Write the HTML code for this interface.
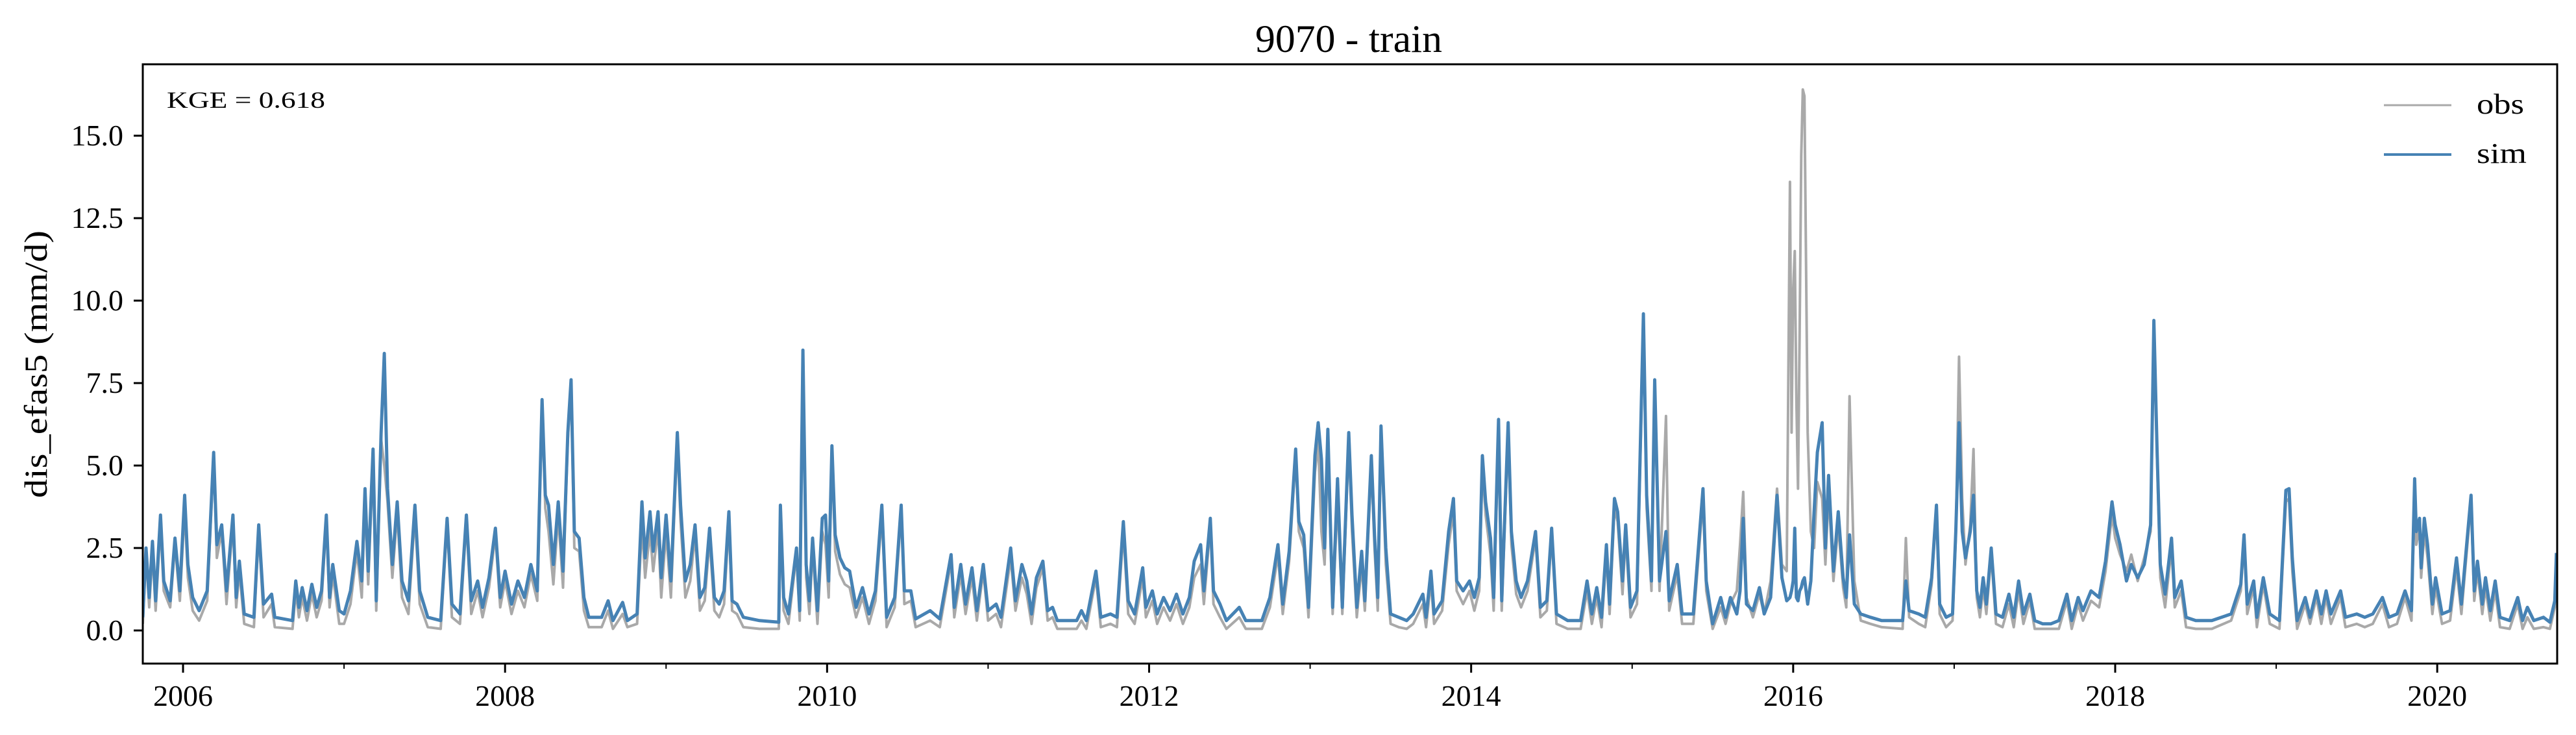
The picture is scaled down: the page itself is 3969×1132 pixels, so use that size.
<!DOCTYPE html>
<html><head><meta charset="utf-8"><title>9070 - train</title>
<style>
html,body{margin:0;padding:0;background:#fff;}
svg{display:block;font-family:"Liberation Serif",serif;}
</style></head>
<body>
<svg id="chart" width="3969" height="1132" viewBox="0 0 3969 1132" xmlns="http://www.w3.org/2000/svg">
<rect x="0" y="0" width="3969" height="1132" fill="#fff"/>
<text x="2078" y="80" font-size="60" text-anchor="middle" textLength="288" lengthAdjust="spacingAndGlyphs">9070 - train</text>
<g id="plot"></g>
<text transform="translate(72,561) rotate(-90)" font-size="50" text-anchor="middle" textLength="412" lengthAdjust="spacingAndGlyphs">dis_efas5 (mm/d)</text>
<text x="257" y="166" font-size="36" textLength="244" lengthAdjust="spacingAndGlyphs">KGE = 0.618</text>
<g>
<line x1="3673" y1="162" x2="3777" y2="162" stroke="#a9a9a9" stroke-width="3"/>
<text x="3816" y="175" font-size="44" textLength="73" lengthAdjust="spacingAndGlyphs">obs</text>
<line x1="3673" y1="238" x2="3777" y2="238" stroke="#4682b4" stroke-width="4"/>
<text x="3816" y="251" font-size="44" textLength="77" lengthAdjust="spacingAndGlyphs">sim</text>
</g>
</svg>
<script>
const yTicks = [0, 2.5, 5, 7.5, 10, 12.5, 15];
const yTickLabels = ["0.0","2.5","5.0","7.5","10.0","12.5","15.0"];
const xMajorYears = [2006, 2008, 2010, 2012, 2014, 2016, 2018, 2020];
const xMinorYears = [2007, 2009, 2011, 2013, 2015, 2017, 2019];
const dates = [
2005.75,2005.77,2005.79,2005.81,2005.83,2005.86,2005.88,2005.92,2005.95,2005.98,
2006.01,2006.03,2006.06,2006.10,2006.15,2006.19,2006.21,2006.24,2006.27,2006.31,2006.33,2006.35,2006.38,2006.44,2006.47,2006.50,2006.55,2006.57,2006.68,2006.70,2006.72,2006.74,2006.77,2006.80,2006.83,2006.86,2006.89,2006.91,2006.93,2006.97,
2007.00,2007.04,2007.08,2007.11,2007.13,2007.15,2007.18,2007.20,2007.23,2007.25,2007.27,2007.30,2007.33,2007.36,2007.40,2007.44,2007.47,2007.52,2007.60,2007.64,2007.67,2007.72,2007.76,2007.79,2007.83,2007.86,2007.90,2007.94,2007.97,
2008.00,2008.04,2008.08,2008.12,2008.16,2008.20,2008.23,2008.25,2008.27,2008.30,2008.33,2008.36,2008.39,2008.41,2008.43,2008.46,2008.49,2008.52,2008.60,2008.64,2008.67,2008.73,2008.76,2008.82,2008.85,2008.87,2008.90,2008.92,2008.95,2008.97,
2009.00,2009.03,2009.07,2009.09,2009.12,2009.15,2009.18,2009.21,2009.24,2009.27,2009.30,2009.33,2009.36,2009.39,2009.41,2009.44,2009.48,2009.58,2009.70,2009.71,2009.73,2009.76,2009.81,2009.83,2009.85,2009.87,2009.89,2009.91,2009.94,2009.97,2009.99,
2010.01,2010.03,2010.05,2010.08,2010.11,2010.14,2010.18,2010.22,2010.26,2010.30,2010.34,2010.37,2010.42,2010.46,2010.48,2010.52,2010.55,2010.64,2010.70,2010.77,2010.79,2010.83,2010.86,2010.90,2010.93,2010.97,
2011.00,2011.05,2011.08,2011.14,2011.17,2011.21,2011.24,2011.27,2011.30,2011.34,2011.37,2011.40,2011.43,2011.55,2011.58,2011.61,2011.67,2011.70,2011.76,2011.80,2011.84,2011.87,2011.91,2011.96,2011.98,
2012.02,2012.05,2012.09,2012.13,2012.17,2012.21,2012.25,2012.28,2012.32,2012.34,2012.38,2012.40,2012.44,2012.48,2012.56,2012.60,2012.70,2012.75,2012.80,2012.83,2012.87,2012.91,2012.93,2012.96,2012.99,
2013.03,2013.05,2013.07,2013.09,2013.11,2013.14,2013.17,2013.20,2013.24,2013.26,2013.29,2013.32,2013.34,2013.38,2013.40,2013.42,2013.44,2013.47,2013.50,2013.55,2013.60,2013.64,2013.70,2013.72,2013.75,2013.77,2013.82,2013.86,2013.89,2013.91,2013.95,2013.99,
2014.02,2014.05,2014.07,2014.09,2014.12,2014.14,2014.17,2014.19,2014.23,2014.25,2014.28,2014.31,2014.35,2014.40,2014.43,2014.47,2014.50,2014.53,2014.60,2014.68,2014.72,2014.75,2014.78,2014.81,2014.84,2014.86,2014.89,2014.91,2014.94,2014.96,2014.99,
2015.03,2015.07,2015.09,2015.12,2015.14,2015.17,2015.21,2015.23,2015.28,2015.31,2015.38,2015.44,2015.46,2015.50,2015.55,2015.58,2015.61,2015.65,2015.67,2015.69,2015.71,2015.75,2015.79,2015.82,2015.86,2015.90,2015.93,2015.96,2015.98,2015.99,
2016.00,2016.01,2016.02,2016.03,2016.04,2016.05,2016.06,2016.07,2016.09,2016.11,2016.13,2016.15,2016.18,2016.20,2016.22,2016.25,2016.28,2016.31,2016.33,2016.35,2016.38,2016.42,2016.48,2016.55,2016.68,2016.70,2016.72,2016.78,2016.82,2016.86,2016.89,2016.91,2016.95,2016.99,
2017.01,2017.03,2017.05,2017.07,2017.10,2017.12,2017.14,2017.16,2017.18,2017.20,2017.23,2017.26,2017.30,2017.34,2017.37,2017.40,2017.43,2017.47,2017.50,2017.55,2017.60,2017.65,2017.70,2017.73,2017.77,2017.80,2017.85,2017.90,2017.94,2017.98,
2018.00,2018.03,2018.07,2018.10,2018.14,2018.18,2018.22,2018.24,2018.26,2018.28,2018.31,2018.35,2018.37,2018.41,2018.44,2018.50,2018.60,2018.72,2018.78,2018.80,2018.82,2018.86,2018.88,2018.92,2018.96,
2019.02,2019.06,2019.08,2019.10,2019.13,2019.18,2019.21,2019.25,2019.28,2019.31,2019.34,2019.40,2019.43,2019.50,2019.55,2019.60,2019.66,2019.70,2019.75,2019.80,2019.84,2019.86,2019.87,2019.89,2019.90,2019.92,2019.94,2019.97,2019.99,
2020.03,2020.08,2020.12,2020.15,2020.21,2020.23,2020.25,2020.28,2020.30,2020.33,2020.36,2020.39,2020.45,2020.50,2020.53,2020.56,2020.60,2020.66,2020.70,2020.73,2020.74
];
const simValues = [
0.4,2.5,1.0,2.7,0.9,3.5,1.5,0.9,2.8,1.2,
4.1,2.0,1.0,0.6,1.2,5.4,2.6,3.2,1.2,3.5,1.0,2.1,0.5,0.4,3.2,0.8,1.1,0.4,0.3,1.5,0.7,1.3,0.6,1.4,0.7,1.2,3.5,1.0,2.0,0.6,
0.5,1.2,2.7,1.5,4.3,1.8,5.5,0.9,6.0,8.4,4.3,2.0,3.9,1.5,0.9,3.8,1.2,0.4,0.3,3.4,0.8,0.5,3.5,0.9,1.5,0.7,1.6,3.1,1.0,
1.8,0.8,1.5,1.0,2.0,1.2,7.0,4.1,3.8,2.0,3.9,1.8,6.0,7.6,3.0,2.8,1.0,0.4,0.4,0.9,0.3,0.85,0.3,0.5,3.9,2.2,3.6,2.4,3.6,1.6,
3.5,1.5,6.0,3.8,1.5,2.0,3.2,1.0,1.3,3.1,1.0,0.8,1.2,3.6,0.9,0.8,0.4,0.3,0.25,3.8,1.0,0.5,2.5,0.6,8.5,2.0,0.9,2.8,0.6,3.4,3.5,
1.5,5.6,2.9,2.2,1.9,1.8,0.7,1.3,0.5,1.2,3.8,0.4,1.0,3.8,1.2,1.2,0.35,0.6,0.35,2.3,0.7,2.0,0.8,1.9,0.6,2.0,
0.6,0.8,0.4,2.5,0.9,2.0,1.5,0.5,1.6,2.1,0.6,0.7,0.3,0.3,0.6,0.3,1.8,0.4,0.5,0.4,3.3,0.9,0.5,1.9,0.7,
1.2,0.5,1.0,0.6,1.1,0.5,1.0,2.1,2.6,1.2,3.4,1.2,0.8,0.3,0.7,0.3,0.3,1.0,2.6,0.8,2.4,5.5,3.3,2.9,0.7,
5.3,6.3,5.2,2.5,6.1,0.7,4.6,0.7,6.0,3.5,0.7,2.4,0.9,5.3,2.9,1.0,6.2,2.5,0.5,0.4,0.3,0.5,1.1,0.4,1.8,0.5,0.9,3.0,4.0,1.5,1.2,1.5,
1.0,1.6,5.3,3.9,2.8,1.0,6.4,0.9,6.3,3.0,1.5,1.0,1.5,3.0,0.7,0.9,3.1,0.5,0.3,0.3,1.5,0.5,1.3,0.4,2.6,0.8,4.0,3.6,1.5,3.2,0.7,
1.2,9.6,4.1,1.5,7.6,1.5,3.0,0.9,2.0,0.5,0.5,4.3,1.5,0.2,1.0,0.4,1.0,0.5,1.2,3.4,0.8,0.6,1.3,0.5,1.0,4.1,1.6,0.9,1.0,1.2,
1.5,3.1,1.0,0.9,1.2,1.3,1.5,1.6,0.8,1.5,3.6,5.4,6.3,2.5,4.7,1.8,3.6,1.6,1.0,2.9,0.8,0.5,0.4,0.3,0.3,1.5,0.6,0.5,0.4,1.6,3.8,0.8,0.4,0.5,
3.0,6.3,3.0,2.2,3.0,4.1,1.2,0.7,1.6,0.8,2.5,0.5,0.4,1.1,0.4,1.5,0.5,1.1,0.3,0.2,0.2,0.3,1.1,0.3,1.0,0.6,1.2,1.0,2.1,3.9,
3.2,2.6,1.5,2.0,1.6,2.0,3.2,9.4,5.5,2.0,1.1,2.8,1.0,1.5,0.4,0.3,0.3,0.5,1.4,2.9,0.8,1.5,0.4,1.6,0.5,
0.3,4.25,4.3,2.2,0.3,1.0,0.4,1.2,0.5,1.2,0.5,1.2,0.4,0.5,0.4,0.5,1.0,0.4,0.5,1.2,0.6,4.6,3.0,3.4,1.9,3.4,2.6,0.8,1.6,
0.5,0.6,2.2,0.8,4.1,1.2,2.1,0.8,1.6,0.6,1.5,0.4,0.3,1.0,0.3,0.7,0.3,0.4,0.25,0.9,2.35
];
const obsValues = [
0.2,2.3,0.7,2.4,0.6,3.2,1.2,0.7,2.6,0.9,
3.7,1.6,0.6,0.3,0.9,5.2,2.2,3.0,0.8,3.3,0.7,1.8,0.2,0.1,3.0,0.4,0.8,0.1,0.05,1.2,0.4,1.0,0.3,1.1,0.4,0.9,3.3,0.7,1.7,0.2,
0.2,0.8,2.4,1.0,4.0,1.4,5.2,0.6,5.8,5.0,3.9,1.6,3.6,1.0,0.5,3.5,0.8,0.1,0.05,3.2,0.4,0.2,3.3,0.5,1.2,0.4,1.3,2.9,0.7,
1.5,0.5,1.2,0.7,1.7,0.9,6.8,3.7,3.0,1.4,3.5,1.3,5.8,7.4,2.5,2.4,0.6,0.1,0.1,0.6,0.05,0.5,0.1,0.2,3.2,1.6,3.0,1.8,3.1,1.0,
3.0,1.0,5.8,3.3,1.0,1.5,2.9,0.6,0.9,2.8,0.6,0.4,0.8,3.3,0.6,0.5,0.1,0.05,0.05,3.6,0.6,0.2,2.3,0.3,8.3,1.6,0.5,2.5,0.2,3.0,2.6,
1.0,5.4,2.4,1.7,1.4,1.3,0.4,1.0,0.2,0.9,3.5,0.1,0.7,3.6,0.8,0.9,0.1,0.3,0.1,2.1,0.4,1.7,0.5,1.6,0.3,1.8,
0.3,0.5,0.1,2.2,0.6,1.6,1.1,0.2,1.3,1.9,0.3,0.4,0.05,0.05,0.3,0.05,1.6,0.1,0.2,0.1,3.0,0.5,0.2,1.6,0.4,
0.9,0.2,0.7,0.3,0.8,0.2,0.7,1.6,2.0,0.8,3.2,0.8,0.4,0.05,0.4,0.05,0.05,0.7,2.3,0.5,2.1,5.3,3.0,2.5,0.4,
4.8,5.7,3.0,2.0,5.5,0.5,4.0,0.5,5.7,3.0,0.4,2.0,0.6,5.0,2.5,0.6,6.0,2.0,0.2,0.1,0.05,0.2,0.8,0.1,1.5,0.2,0.6,2.6,3.6,1.2,0.8,1.2,
0.6,1.2,5.0,3.5,2.3,0.6,6.1,0.6,6.0,2.6,1.1,0.7,1.2,2.8,0.4,0.6,2.9,0.2,0.05,0.05,1.2,0.2,1.0,0.1,2.3,0.5,3.7,3.3,1.1,2.9,0.4,
0.8,9.3,3.7,1.2,7.4,1.2,6.5,0.6,1.7,0.2,0.2,4.0,1.2,0.05,0.7,0.2,0.8,1.2,2.6,4.2,1.0,0.4,1.1,0.5,1.5,4.3,2.0,1.8,13.6,6.0,
10.3,11.5,7.0,4.3,9.0,14.4,16.4,16.2,6.0,3.0,2.5,4.5,4.0,2.0,4.2,1.5,3.2,1.3,0.7,7.1,1.5,0.3,0.2,0.1,0.05,2.8,0.4,0.2,0.1,1.4,3.6,0.5,0.1,0.3,
2.8,8.3,4.0,2.0,3.2,5.5,1.0,0.4,1.3,0.5,2.3,0.2,0.1,0.8,0.1,1.2,0.2,0.9,0.05,0.05,0.05,0.05,0.9,0.05,0.8,0.3,0.9,0.7,1.8,3.5,
2.8,2.3,1.8,2.3,1.5,2.2,3.0,9.2,5.2,1.6,0.7,2.5,0.7,1.2,0.1,0.05,0.05,0.3,1.2,2.7,0.5,1.3,0.1,1.4,0.2,
0.05,3.9,4.0,1.8,0.05,0.8,0.2,1.0,0.2,1.0,0.2,1.0,0.1,0.2,0.1,0.2,0.8,0.1,0.2,1.0,0.3,4.2,2.6,3.1,1.6,3.0,2.2,0.5,1.3,
0.2,0.3,1.9,0.5,3.9,0.9,1.8,0.5,1.3,0.3,1.2,0.1,0.05,0.8,0.05,0.4,0.05,0.1,0.05,0.7,2.2
];

const NS = "http://www.w3.org/2000/svg";
const svg = document.getElementById('chart');
const plot = document.getElementById('plot');
const L = 220, R = 3940, T = 99, B = 1022;
const X0 = 2005.75, X1 = 2020.745;
const Y0PX = 971, PXU = 50.8;
function xScale(t){ return L + (t - X0) / (X1 - X0) * (R - L); }
function yScale(v){ return Y0PX - v * PXU; }

function mk(tag, attrs){ const e = document.createElementNS(NS, tag); for (const k in attrs) e.setAttribute(k, attrs[k]); return e; }

function seriesPath(vals){
  let d = '';
  for (let i = 0; i < dates.length; i++) d += (i ? 'L' : 'M') + xScale(dates[i]).toFixed(1) + ' ' + yScale(vals[i]).toFixed(1);
  return d;
}
const clip = mk('clipPath', {id: 'clipArea'});
clip.appendChild(mk('rect', {x: L, y: T, width: R - L, height: B - T}));
svg.insertBefore(clip, svg.firstChild);
const obsLine = mk('path', {d: seriesPath(obsValues), fill: 'none', stroke: '#a9a9a9', 'stroke-width': 4, 'stroke-linejoin': 'round', 'clip-path': 'url(#clipArea)'});


plot.appendChild(obsLine);
const simLine = mk('path', {d: seriesPath(simValues), fill: 'none', stroke: '#4682b4', 'stroke-width': 5, 'stroke-linejoin': 'round', 'clip-path': 'url(#clipArea)'});


plot.appendChild(simLine);

const frame = mk('rect', {x: L, y: T, width: R - L, height: B - T, fill: 'none', stroke: '#000', 'stroke-width': 3});


plot.appendChild(frame);

yTicks.forEach((v, i) => {
  const y = yScale(v);
  const tk = mk('line', {x1: L - 14, y1: y, x2: L, y2: y, stroke: '#000', 'stroke-width': 3});
  
  
  plot.appendChild(tk);
  const lb = mk('text', {x: L - 30, y: y + 15, 'font-size': 46, 'text-anchor': 'end'});
  lb.textContent = yTickLabels[i];
  
  
  plot.appendChild(lb);
});
xMajorYears.forEach(yr => {
  const x = xScale(yr);
  const tk = mk('line', {x1: x, y1: B, x2: x, y2: B + 14, stroke: '#000', 'stroke-width': 3});
  
  
  plot.appendChild(tk);
  const lb = mk('text', {x: x, y: B + 65, 'font-size': 46, 'text-anchor': 'middle'});
  lb.textContent = String(yr);
  
  
  plot.appendChild(lb);
});
xMinorYears.forEach(yr => {
  const x = xScale(yr);
  const tk = mk('line', {x1: x, y1: B, x2: x, y2: B + 8, stroke: '#000', 'stroke-width': 2});
  
  
  plot.appendChild(tk);
});
</script>
</body></html>
